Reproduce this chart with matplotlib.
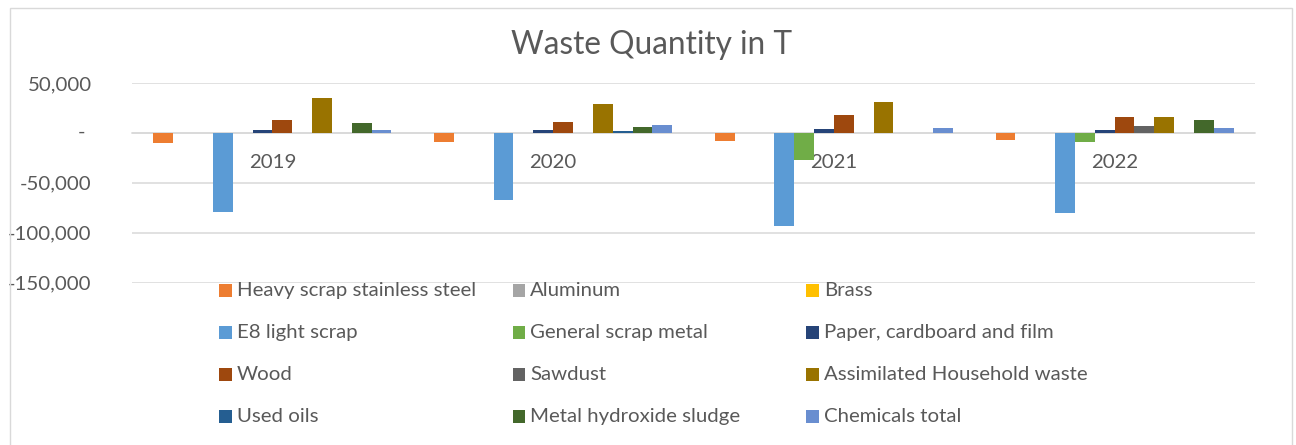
import numpy as np
import matplotlib
matplotlib.use("Agg")
import matplotlib.pyplot as plt
from matplotlib.patches import Rectangle

categories = ["2019", "2020", "2021", "2022"]
series_names = [
    "Heavy scrap stainless steel", "Aluminum", "Brass",
    "E8 light scrap", "General scrap metal", "Paper, cardboard and film",
    "Wood", "Sawdust", "Assimilated Household waste",
    "Used oils", "Metal hydroxide sludge", "Chemicals total",
]
heavy_scrap = [-9600, -8700, -7600, -7300]
aluminum = [0, 0, 0, 0]
brass = [0, 0, 0, 0]
e8_light_scrap = [-79600, -67300, -93600, -80300]
general_scrap = [0, 0, -27600, -9000]
paper = [3400, 3000, 3700, 3400]
wood = [13400, 10700, 18400, 15700]
sawdust = [0, 0, 0, 7000]
household = [34700, 29400, 31400, 15700]
used_oils = [0, 1500, 0, 0]
metal_hydroxide = [10000, 5700, 0, 13400]
chemicals = [2700, 7700, 4700, 5400]

series_values = [heavy_scrap, aluminum, brass, e8_light_scrap, general_scrap, paper,
                 wood, sawdust, household, used_oils, metal_hydroxide, chemicals]
colors = ["#ED7D31", "#A5A5A5", "#FFC000", "#5B9BD5", "#70AD47", "#264478",
          "#9E480E", "#636363", "#997300", "#255E91", "#43682B", "#698ED0"]

yticks = [-150000, -100000, -50000, 0, 50000]
ytick_labels = ["-150,000", "-100,000", "-50,000", "", "50,000"]

TXT = "#595959"
GRID = "#D9D9D9"
FONT = "Lato"
FS = 14.7
W, H = 1296, 445

fig = plt.figure(figsize=(W / 100, H / 100), dpi=100)
fig.patch.set_facecolor("white")
# chart border
fig.patches.append(Rectangle((10 / W, -0.1), (1292 - 10) / W, 1.1 - 8 / H,
                             transform=fig.transFigure, fill=False,
                             edgecolor=GRID, linewidth=1.0))

ax = fig.add_axes([132 / W, 1 - 282.7 / H, (1255 - 132) / W, (282.7 - 83) / H])
n = len(series_names)
slot = 19.85 / 280.75
x = np.arange(len(categories))
for i, (vals, c) in enumerate(zip(series_values, colors)):
    ax.bar(x + (i - (n - 1) / 2) * slot, vals, width=slot, color=c, zorder=3)

ax.set_xlim(-0.5, len(categories) - 0.5)
ax.set_ylim(-150000, 50000)
ax.set_yticks(yticks)
ax.set_yticklabels(ytick_labels, fontsize=FS, color=TXT, family=FONT)
ax.tick_params(axis="y", length=0, pad=29)
ax.yaxis.grid(True, color=GRID, linewidth=1.1, zorder=0)
ax.set_axisbelow(True)
for s in ["top", "right", "left"]:
    ax.spines[s].set_visible(False)
ax.spines["bottom"].set_position(("data", 0))
ax.spines["bottom"].set_color(GRID)
ax.spines["bottom"].set_linewidth(1.1)
ax.set_xticks(x)
ax.set_xticklabels(categories, fontsize=FS, color=TXT, family=FONT)
ax.tick_params(axis="x", length=0, pad=15)
ax.set_facecolor("none")
# zero label in accounting style
fig.text(81.5 / W, 1 - 132.7 / H, "-", ha="center", va="center", fontsize=FS,
         color=TXT, family=FONT)

fig.text(652 / W, 1 - 54 / H, "Waste Quantity in T", ha="center", va="baseline",
         fontsize=22.8, color=TXT, family=FONT)

# legend (3 columns, row-major like the original)
for i, (name, c) in enumerate(zip(series_names, colors)):
    row, col = divmod(i, 3)
    x0 = 219 + col * 293.5
    yc = 290.7 + row * 42
    fig.patches.append(Rectangle((x0 / W, 1 - (yc + 6.3) / H), 12.7 / W, 12.7 / H,
                                 transform=fig.transFigure, facecolor=c, edgecolor="none"))
    fig.text((x0 + 17.7) / W, 1 - yc / H, name, ha="left", va="center",
             fontsize=FS, color=TXT, family=FONT)

fig.savefig("out.png", dpi=100)
